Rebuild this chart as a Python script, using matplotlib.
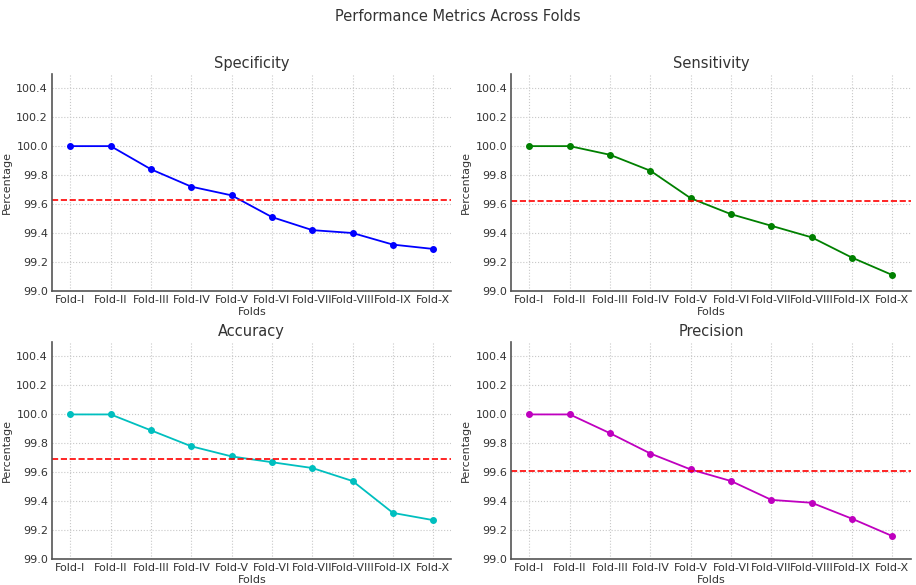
import matplotlib
matplotlib.use("Agg")
import matplotlib.pyplot as plt

folds = ["Fold-I", "Fold-II", "Fold-III", "Fold-IV", "Fold-V",
         "Fold-VI", "Fold-VII", "Fold-VIII", "Fold-IX", "Fold-X"]

specificity = [100.0, 100.0, 99.84, 99.72, 99.66, 99.51, 99.42, 99.40, 99.32, 99.29]
sensitivity = [100.0, 100.0, 99.94, 99.83, 99.64, 99.53, 99.45, 99.37, 99.23, 99.11]
accuracy = [100.0, 100.0, 99.89, 99.78, 99.71, 99.67, 99.63, 99.54, 99.32, 99.27]
precision = [100.0, 100.0, 99.87, 99.73, 99.62, 99.54, 99.41, 99.39, 99.28, 99.16]

# mean lines
means = [99.63, 99.62, 99.69, 99.61]

titles = ["Specificity", "Sensitivity", "Accuracy", "Precision"]
series = [specificity, sensitivity, accuracy, precision]
colors = ["#0000ff", "#008000", "#00bfbf", "#bf00bf"]

txt = "#333333"
fig, axes = plt.subplots(2, 2, figsize=(9.16, 5.85), dpi=100)
fig.subplots_adjust(left=0.057, right=0.994, top=0.874, bottom=0.044,
                    wspace=0.15, hspace=0.235)
fig.suptitle("Performance Metrics Across Folds", fontsize=10.5, color=txt, y=0.985)

for ax, title, vals, col, m in zip(axes.flat, titles, series, colors, means):
    ax.plot(folds, vals, color=col, marker="o", markersize=4, linewidth=1.3)
    ax.axhline(m, color="red", linestyle="--", linewidth=1.2)
    ax.set_title(title, fontsize=10.5, color=txt, pad=4)
    ax.set_ylim(99.0, 100.5)
    ax.set_yticks([99.0, 99.2, 99.4, 99.6, 99.8, 100.0, 100.2, 100.4])
    ax.set_xlabel("Folds", fontsize=8, color=txt, labelpad=1)
    ax.set_ylabel("Percentage", fontsize=8, color=txt, labelpad=3)
    ax.grid(True, linestyle=":", color="#c8c8c8", linewidth=0.8)
    ax.tick_params(axis="both", length=0, labelsize=8, colors=txt, pad=3)
    for s in ["top", "right"]:
        ax.spines[s].set_visible(False)
    for s in ["left", "bottom"]:
        ax.spines[s].set_color("#555555")
        ax.spines[s].set_linewidth(1.2)

plt.savefig("out.png")
